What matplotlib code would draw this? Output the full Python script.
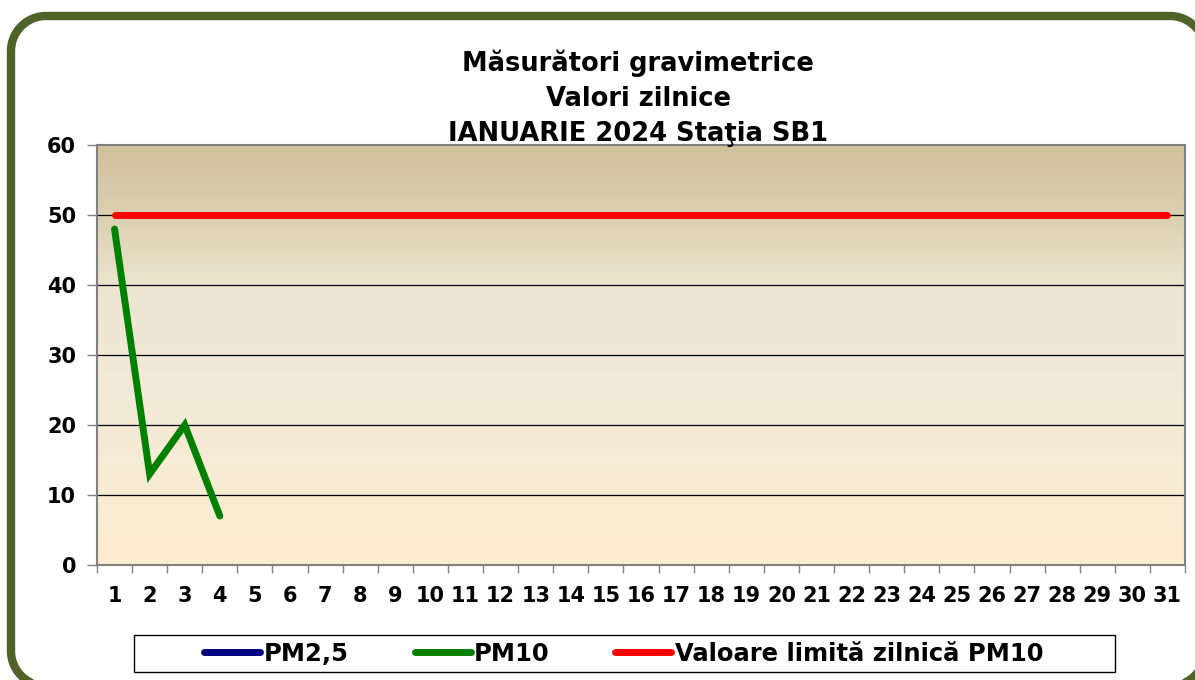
import numpy as np
import matplotlib
matplotlib.use('Agg')
import matplotlib.pyplot as plt
from matplotlib.patches import Rectangle
from matplotlib.lines import Line2D
from matplotlib.transforms import IdentityTransform
from matplotlib.colors import LinearSegmentedColormap

# data
days = list(range(1, 32))
pm10_days = [1, 2, 3, 4]
pm10 = [48, 13, 20, 7]
limit = [50] * 31
title = 'Măsurători gravimetrice\nValori zilnice\nIANUARIE 2024 Staţia SB1'
y_ticks = [0, 10, 20, 30, 40, 50, 60]

plt.rcParams['font.family'] = ['DejaVu Sans']
plt.rcParams['font.weight'] = 'bold'

W, H = 1195, 680
fig = plt.figure(figsize=(W / 100, H / 100), dpi=100)
fig.patch.set_facecolor('white')


def rounded_rect(x0, y0, x1, y1, r, n=30):
    # polyline of a rounded rectangle, in pixels
    pts = []
    corners = [(x1 - r, y1 - r, 0), (x0 + r, y1 - r, 90),
               (x0 + r, y0 + r, 180), (x1 - r, y0 + r, 270)]
    for cx, cy, a0 in corners:
        t = np.radians(np.linspace(a0, a0 + 90, n))
        pts += list(zip(cx + r * np.cos(t), cy + r * np.sin(t)))
    pts.append(pts[0])
    xs, ys = zip(*pts)
    return xs, ys


# frame round the whole chart (runs off the right and bottom edges)
fx, fy = rounded_rect(11, -6, 1205, 664, 35)
fig.add_artist(Line2D(fx, fy, transform=IdentityTransform(),
                      color='#4F6228', linewidth=6, clip_on=False))

ax = fig.add_axes([97 / W, 1 - 565 / H, (1185 - 97) / W, (565 - 145) / H])

# background gradient
cmap = LinearSegmentedColormap.from_list('bg', [
    (0.0, '#D0C19C'),
    (0.18, '#DCD1B2'),
    (0.35, '#EDE6D2'),
    (0.6, '#F2EAD6'),
    (1.0, '#FDEDD1')])
grad = np.linspace(0, 1, 256).reshape(-1, 1)
ax.imshow(grad, cmap=cmap, aspect='auto', extent=(0.5, 31.5, 0, 60),
          origin='upper', zorder=0)

ax.set_xlim(0.5, 31.5)
ax.set_ylim(0, 60)

for y in y_ticks[1:-1]:
    ax.axhline(y, color='black', linewidth=0.9, zorder=1)

ax.plot(days, limit, color='#FF0000', linewidth=5, solid_capstyle='round',
        zorder=3, label='Valoare limită zilnică PM10')
ax.plot(pm10_days, pm10, color='#008000', linewidth=5,
        solid_capstyle='round', solid_joinstyle='miter', zorder=4, label='PM10')
ax.plot([], [], color='#000080', linewidth=5, solid_capstyle='round',
        label='PM2,5')

for s in ax.spines.values():
    s.set_color('#808080')
    s.set_linewidth(1.5)

ax.set_yticks(y_ticks)
ax.set_xticks(days)
ax.set_xticks(np.arange(0.5, 32, 1), minor=True)
ax.tick_params(axis='x', which='major', length=0, pad=15, labelsize=15)
ax.tick_params(axis='x', which='minor', length=6, color='#808080', width=1)
ax.tick_params(axis='y', length=7, color='#808080', width=1, pad=8,
               labelsize=15)
for lab in ax.get_xticklabels() + ax.get_yticklabels():
    lab.set_fontweight('bold')

fig.text(638 / W, 1 - 98 / H, title, ha='center', va='center', fontsize=18.5,
         fontweight='bold', linespacing=1.45)

# legend box
fig.patches.append(Rectangle((134 / W, 1 - 672 / H), (1115 - 134) / W, 37 / H,
                             transform=fig.transFigure, fill=False,
                             edgecolor='black', linewidth=1))
handles, labels = ax.get_legend_handles_labels()
order = [2, 1, 0]
leg = fig.legend([handles[i] for i in order], [labels[i] for i in order],
                 loc='center', bbox_to_anchor=(624 / W, 1 - 654 / H),
                 ncol=3, frameon=False, handlelength=2.3, handletextpad=0.15,
                 columnspacing=2.7, borderpad=0.0,
                 prop={'weight': 'bold', 'size': 17.5})

fig.savefig('out.png', dpi=100)
